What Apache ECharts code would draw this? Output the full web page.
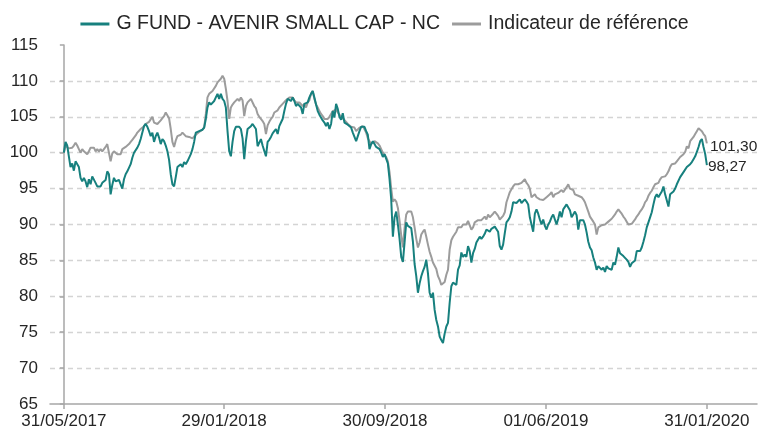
<!DOCTYPE html>
<html>
<head>
<meta charset="utf-8">
<script src="https://cdn.jsdelivr.net/npm/echarts@6/dist/echarts.min.js"></script>
<style>
html,body{margin:0;padding:0;background:#fff;}
#chart{width:769px;height:432px;}
</style>
</head>
<body>
<div id="chart"></div>
<script>
// ---- data ----
const startDate = '31/05/2017';
const endDate = '31/01/2020';
const tickLabels = ['31/05/2017', '29/01/2018', '30/09/2018', '01/06/2019', '31/01/2020'];
const seriesNames = ['G FUND - AVENIR SMALL CAP - NC', 'Indicateur de référence'];

const fundValues = [
  100.0, 101.5, 101.0,
  99.5, 98.0, 98.5, 97.5, 98.8, 99.0, 98.0, 96.5, 96.0, 96.5, 96.0, 95.2,
  96.3, 95.6, 96.7, 96.7, 95.8, 95.3, 95.5, 95.3, 95.8, 95.6, 96.2, 97.4,
  97.0, 94.2, 95.5, 96.5, 96.0, 96.2, 96.2, 95.6, 95.0, 96.3, 97.0, 97.4,
  97.6, 98.4, 99.3, 100.0, 100.2, 100.7, 101.2, 101.9, 102.8, 103.7, 104.0, 103.6,
  103.0, 102.3, 102.8, 101.5, 102.3, 102.8, 102.1, 101.2, 101.9, 101.6, 101.0, 100.2,
  99.0, 97.0, 95.6, 95.3, 96.6, 98.0, 98.2, 98.4, 98.0, 98.7, 98.4, 98.8,
  98.8, 99.8, 100.5, 101.5, 102.8, 102.9, 103.0, 103.0, 103.2, 103.5, 104.7, 106.3,
  107.0, 106.7, 106.5, 107.2, 107.7, 108.2, 107.5, 108.2, 107.5, 107.2, 106.3, 103.0,
  100.2, 99.5, 101.5, 103.0, 103.6, 103.4, 103.6, 103.3, 102.0, 99.1, 101.6, 103.3,
  103.1, 103.7, 104.0, 103.8, 103.3, 100.9, 100.7, 101.9, 101.0, 100.8, 99.5, 101.5,
  101.8, 102.2, 102.7, 103.0, 103.3, 102.6, 103.7, 104.2, 104.7, 105.8, 106.8, 107.5,
  107.7, 107.2, 107.7, 107.2, 106.5, 106.8, 106.7, 106.3, 105.4, 106.8, 106.6, 107.0,
  107.7, 108.2, 108.6, 107.7, 106.7, 105.8, 105.3, 105.1, 104.5, 104.2, 103.7, 104.2,
  103.3, 104.0, 105.8, 104.9, 106.8, 106.1, 105.0, 104.6, 105.5, 104.2, 104.0, 103.9,
  103.8, 103.5, 102.8, 102.2, 101.6, 102.3, 103.0, 103.6, 103.5, 103.6, 103.0, 102.5,
  100.5, 101.2, 101.6, 101.2, 100.8, 100.6, 100.5, 100.0, 99.4, 99.8, 99.7, 98.5,
  96.3, 93.5, 88.3, 91.0, 91.8, 90.0, 88.0, 85.5, 84.8, 87.5, 90.3, 89.8,
  90.0, 89.5, 87.6, 84.5, 82.8, 80.5, 81.8, 82.8, 83.5, 84.1, 85.1, 83.2,
  80.5, 79.8, 80.5, 78.1, 76.7, 75.8, 74.4, 73.9, 73.5, 74.8, 75.8, 76.3,
  79.1, 81.4, 81.9, 82.0, 81.6, 83.7, 84.3, 86.1, 85.5, 85.8, 85.5, 87.0,
  86.3, 84.7, 86.0, 86.6, 87.5, 87.4, 88.3, 88.0, 88.3, 88.7, 89.3, 89.2,
  89.0, 89.4, 89.6, 89.7, 89.5, 89.0, 87.0, 86.5, 87.2, 88.8, 90.3, 90.6,
  91.0, 91.8, 93.1, 93.2, 93.0, 93.2, 93.5, 93.0, 93.2, 93.5, 93.2, 92.8,
  91.0, 90.0, 89.0, 91.5, 92.1, 91.5, 90.7, 90.0, 90.7, 89.8, 89.3, 90.0,
  90.4, 91.0, 91.4, 90.7, 90.0, 90.8, 91.8, 91.0, 92.1, 92.3, 92.8, 92.6,
  92.0, 91.0, 91.4, 91.8, 91.3, 89.3, 90.6, 90.8, 90.6, 90.0, 88.9, 87.6,
  86.8, 86.4, 85.4, 84.7, 83.7, 84.2, 84.0, 83.7, 84.0, 83.4, 84.2, 83.9,
  84.0, 83.7, 84.7, 84.4, 85.5, 86.8, 86.0, 85.8, 85.6, 85.8, 85.1, 84.8,
  84.1, 84.6, 84.6, 85.0, 86.3, 86.5, 86.3, 86.8, 87.6, 88.5, 89.6, 90.3,
  91.0, 91.7, 92.8, 93.8, 94.2, 93.8, 94.2, 94.6, 95.3, 94.2, 94.4, 92.5,
  94.2, 94.0, 94.6, 95.0, 95.6, 95.8, 96.6, 96.8, 97.3, 97.5, 98.0, 97.8,
  98.4, 98.7, 99.1, 99.5, 100.1, 100.8, 101.6, 101.9, 100.8, 99.8, 98.27
];

const benchmarkValues = [
  100.0, 101.0, 101.2,
  100.6, 100.5, 100.7, 101.0, 101.4, 101.0, 100.5, 100.0, 100.5, 100.2, 100.0, 99.8,
  100.2, 100.7, 100.9, 100.7, 100.2, 100.5, 100.2, 100.5, 100.2, 100.5, 100.8, 101.2,
  100.0, 98.8, 99.9, 100.2, 100.0, 99.8, 100.0, 99.8, 100.5, 100.5, 100.8, 100.9,
  101.2, 101.5, 101.8, 101.9, 102.4, 102.8, 103.0, 103.3, 103.5, 103.7, 104.0, 103.8,
  104.3, 104.5, 105.0, 104.2, 104.1, 104.0, 104.2, 104.5, 104.8, 105.1, 105.6, 105.7,
  104.8, 103.3, 101.5, 100.8, 101.7, 102.3, 102.5, 102.5, 102.8, 102.6, 102.3, 102.3,
  102.2, 102.0, 102.0, 102.2, 102.5, 102.7, 102.9, 103.0, 103.2, 103.5, 105.4, 107.7,
  108.2, 108.4, 108.6, 108.8, 109.3, 109.8, 110.0, 110.3, 110.7, 110.3, 108.9, 107.2,
  104.7, 106.3, 106.7, 107.0, 107.2, 107.5, 107.2, 107.7, 107.3, 105.1, 106.5, 107.0,
  107.0, 107.5, 107.3, 106.5, 106.2, 105.4, 105.0, 104.7, 104.4, 104.0, 102.6, 103.8,
  104.3, 104.7, 105.0, 105.6, 105.4, 105.9, 106.3, 106.5, 106.8, 107.0, 107.3, 107.5,
  107.7, 107.9, 107.7, 107.3, 107.0, 107.2, 107.0, 106.8, 106.5, 106.8, 106.3, 107.0,
  107.3, 108.2, 108.6, 107.5, 106.7, 106.3, 105.8, 105.4, 105.1, 104.7, 104.5, 104.7,
  105.0, 105.4, 105.8, 105.6, 106.0, 105.6, 105.3, 105.1, 104.8, 104.8, 104.3, 104.0,
  103.8, 103.6, 103.8, 103.5, 103.0, 103.2, 103.5, 103.7, 103.7, 103.5, 102.8, 102.0,
  101.6, 101.2, 101.4, 101.6, 101.5, 101.3, 101.0, 100.5, 100.0, 100.0, 99.4, 98.8,
  97.3, 95.0, 93.2, 93.5, 93.2, 92.3, 90.5, 88.5, 86.8, 89.5, 91.4, 91.8,
  91.8, 91.8, 91.0, 89.6, 88.0, 86.8, 87.5, 88.6, 89.0, 89.3, 88.3, 87.2,
  86.2, 85.5, 84.7, 84.5, 83.8, 82.8, 82.3, 81.6, 81.4, 82.0, 83.0, 83.7,
  86.5, 87.8, 88.3, 88.2, 89.0, 89.6, 89.8, 89.6, 90.0, 89.8, 90.0, 90.5,
  90.3, 89.3, 89.6, 90.3, 90.4, 90.6, 90.8, 90.6, 90.8, 91.1, 90.7, 91.4,
  91.0, 91.2, 91.5, 91.8, 91.5, 91.2, 90.7, 90.5, 91.2, 91.7, 93.1, 93.8,
  94.5, 94.9, 95.3, 95.6, 95.4, 95.6, 95.8, 95.8, 96.0, 96.3, 95.8, 95.5,
  95.0, 93.8, 94.0, 94.2, 93.8, 94.0, 93.5, 93.7, 93.4, 93.6, 93.8, 94.0,
  94.2, 94.5, 93.8, 94.2, 94.0, 94.4, 94.6, 94.8, 94.5, 94.7, 95.2, 95.6,
  95.0, 95.1, 94.8, 94.2, 94.4, 94.0, 94.2, 93.8, 93.5, 93.1, 92.9, 91.8,
  91.1, 91.0, 90.4, 90.0, 88.6, 89.6, 89.7, 89.9, 89.8, 90.0, 90.2, 90.4,
  90.6, 90.8, 91.1, 91.4, 91.8, 92.1, 91.8, 91.5, 91.1, 90.8, 90.4, 90.0,
  89.9, 90.1, 90.3, 90.7, 91.1, 91.4, 91.8, 92.1, 92.5, 93.1, 93.4, 94.0,
  94.4, 94.7, 95.2, 95.6, 95.4, 95.8, 96.3, 96.6, 96.5, 96.7, 97.0, 97.4,
  98.0, 98.4, 98.6, 98.5, 98.8, 99.0, 99.4, 99.6, 99.8, 100.1, 100.9, 100.6,
  101.6, 101.7, 102.2, 102.6, 103.0, 103.4, 103.6, 103.0, 102.6, 102.3, 101.30
];

// ---- helpers ----
function dayNumber(s) {
  const p = s.split('/');
  return Date.UTC(+p[2], +p[1] - 1, +p[0]) / 86400000;
}
const day0 = dayNumber(startDate);
const totalDays = dayNumber(endDate) - day0;
const tickDays = tickLabels.map(s => dayNumber(s) - day0);

function toPairs(values) {
  const step = totalDays / (values.length - 1);
  return values.map((v, i) => [i * step, v]);
}
function fmt(v) { return v.toFixed(2).replace('.', ','); }

const FONT = "'Liberation Sans', Arial, sans-serif";
const TEXT = '#262626';
const AXIS = '#a6a6a6';
const COLORS = ['#17807e', '#9c9c9c'];

const chart = echarts.init(document.getElementById('chart'), null, { renderer: 'canvas' });
chart.setOption({
  animation: false,
  backgroundColor: '#ffffff',
  textStyle: { fontFamily: FONT },
  legend: {
    top: 9,
    left: 'center',
    icon: 'rect',
    itemWidth: 29,
    itemHeight: 3,
    itemGap: 12,
    data: seriesNames,
    textStyle: { fontFamily: FONT, fontSize: 19.5, color: TEXT, padding: [0, 0, 0, 2] }
  },
  grid: { left: 50, right: 12, top: 45, bottom: 28, containLabel: false },
  xAxis: {
    type: 'value',
    min: -21,
    max: 1051,
    axisLine: { show: true, onZero: false, lineStyle: { color: AXIS, width: 1.5 } },
    axisTick: { show: true, customValues: tickDays, length: 5, lineStyle: { color: AXIS, width: 1.5 } },
    axisLabel: {
      customValues: tickDays,
      formatter: v => {
        const i = tickDays.findIndex(d => Math.abs(d - v) < 0.5);
        return i >= 0 ? tickLabels[i] : '';
      },
      color: TEXT, fontFamily: FONT, fontSize: 17, margin: 9
    },
    splitLine: { show: false }
  },
  yAxis: {
    type: 'value',
    min: 65,
    max: 115,
    interval: 5,
    axisLine: { show: true, lineStyle: { color: AXIS, width: 1.5 } },
    axisTick: { show: true, length: 4, lineStyle: { color: AXIS, width: 1.5 } },
    axisLabel: { color: TEXT, fontFamily: FONT, fontSize: 17, margin: 12 },
    splitLine: {
      show: true,
      showMinLine: false,
      showMaxLine: false,
      lineStyle: { color: '#d4d4d4', type: [5, 4], width: 1.3 }
    }
  },
  series: [
    {
      name: seriesNames[0],
      type: 'line',
      z: 3,
      showSymbol: false,
      symbol: 'none',
      data: toPairs(fundValues),
      lineStyle: { color: COLORS[0], width: 2 },
      itemStyle: { color: COLORS[0] },
      endLabel: {
        show: true,
        formatter: p => fmt(p.value[1]),
        color: TEXT, fontFamily: FONT, fontSize: 15.5, distance: 1, offset: [0, 2]
      }
    },
    {
      name: seriesNames[1],
      type: 'line',
      z: 2,
      showSymbol: false,
      symbol: 'none',
      data: toPairs(benchmarkValues),
      lineStyle: { color: COLORS[1], width: 2 },
      itemStyle: { color: COLORS[1] },
      endLabel: {
        show: true,
        formatter: p => fmt(p.value[1]),
        color: TEXT, fontFamily: FONT, fontSize: 15.5, distance: 3, offset: [0, 3]
      }
    }
  ]
});
</script>
</body>
</html>
